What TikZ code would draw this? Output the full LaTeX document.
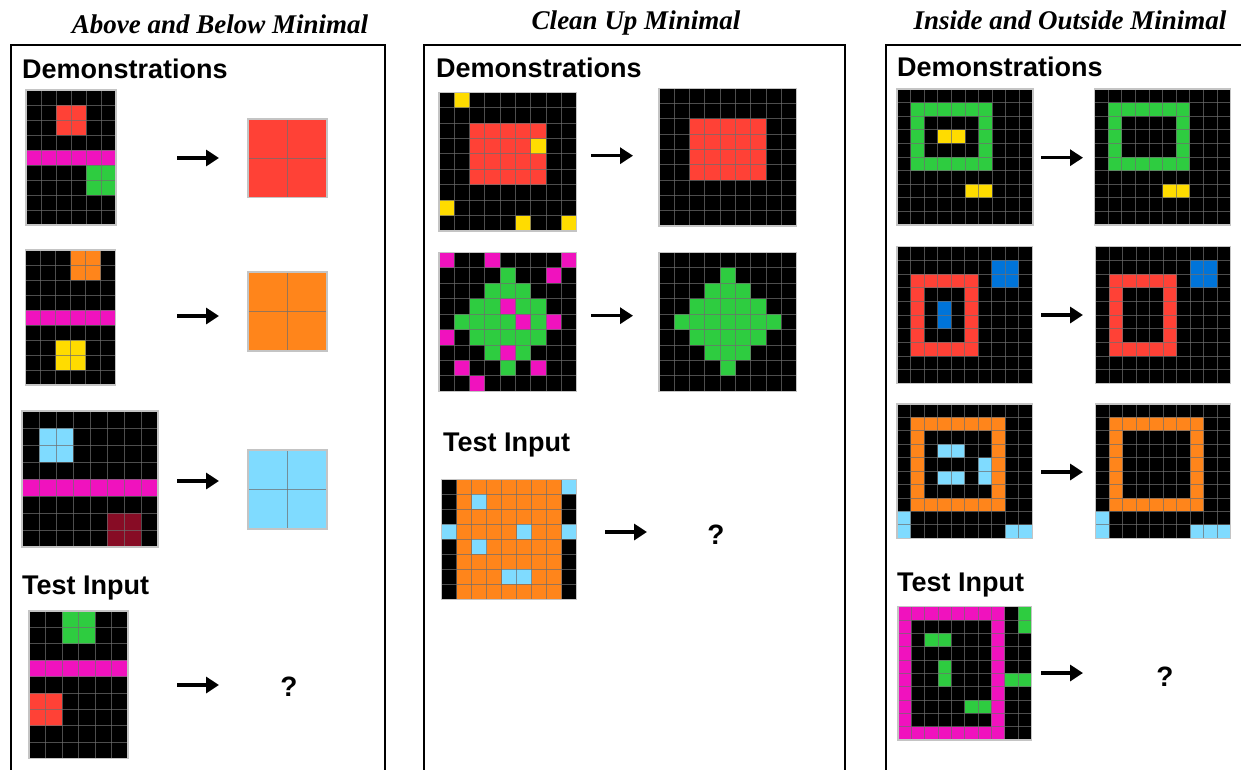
\documentclass[tikz,border=0pt]{standalone}
\usepackage{fontspec}
\setmainfont{Liberation Sans}
\newfontfamily\titlefont{Liberation Serif}
\usetikzlibrary{arrows.meta}
\definecolor{cK}{HTML}{000000}
\definecolor{cR}{HTML}{FF4136}
\definecolor{cO}{HTML}{FF851B}
\definecolor{cY}{HTML}{FFDC00}
\definecolor{cG}{HTML}{2ECC40}
\definecolor{cM}{HTML}{F012BE}
\definecolor{cC}{HTML}{7FDBFF}
\definecolor{cB}{HTML}{0074D9}
\definecolor{cD}{HTML}{870C25}
\definecolor{glinec}{HTML}{6E6E6E}
\definecolor{gbordc}{HTML}{C4C4C4}
\makeatletter
% #1 name, #2 x0, #3 y0, #4 cell w, #5 cell h, #6 cols, #7 rows, #8 row strings
\newcommand\arcgrid[8]{%
  \coordinate (#1-nw) at (#2,#3);
  \coordinate (#1-se) at ({#2+#6*#4},{#3+#7*#5});
  \fill[cK] (#1-nw) rectangle (#1-se);
  \foreach \ag@row [count=\ag@r from 0] in {#8} {%
    \def\ag@c{0}%
    \expandafter\@tfor\expandafter\ag@ch\expandafter:\expandafter=\ag@row\do{%
      \edef\ag@col{c\ag@ch}%
      \if K\ag@ch\else
        \fill[fill=\ag@col] ({#2+\ag@c*#4},{#3+\ag@r*#5}) rectangle ++({#4},{#5});
      \fi
      \pgfmathtruncatemacro\ag@c{\ag@c+1}%
    }%
  }%
  \foreach \ag@i in {1,...,#6} {\draw[gline] ({#2+\ag@i*#4},#3) -- ++(0,{#7*#5});}%
  \foreach \ag@j in {1,...,#7} {\draw[gline] (#2,{#3+\ag@j*#5}) -- ++({#6*#4},0);}%
  \draw[gborder] (#1-nw) rectangle (#1-se);
}
\makeatother
\begin{document}
\begin{tikzpicture}[x=1pt,y=-1pt,
  gline/.style={draw=glinec, line width=0.9pt, opacity=0.7},
  gborder/.style={draw=gbordc, line width=1.2pt},
  panel/.style={draw=black, line width=1.3pt},
  title/.style={font=\titlefont\bfseries\itshape\fontsize{27}{30}\selectfont, anchor=base, inner sep=0pt},
  head/.style={font=\bfseries\fontsize{27}{30}\selectfont, anchor=base west, inner sep=0pt},
  qmark/.style={font=\bfseries\fontsize{28}{30}\selectfont, anchor=base, inner sep=0pt},
  arr/.style={line width=3.4pt, -{Triangle[length=13pt,width=16pt]}}]
\useasboundingbox (0,0) rectangle (1241,769);
\fill[white] (0,0) rectangle (1241,769);

% panels
\draw[panel] (11,45) rectangle (385,790);
\draw[panel] (424,45) rectangle (845,790);
\draw[panel] (886,45) rectangle (1260,790);

% titles
\node[title] (t1) at (220,33) {Above and Below Minimal};
\node[title] (t2) at (636,29) {Clean Up Minimal};
\node[title] (t3) at (1070,29) {Inside and Outside Minimal};

% headings
\node[head] (d1) at (22,78) {Demonstrations};
\node[head] (d2) at (436,77) {Demonstrations};
\node[head] (d3) at (897,76) {Demonstrations};
\node[head] (ti1) at (22,594) {Test Input};
\node[head] (ti2) at (443,451) {Test Input};
\node[head] (ti3) at (897,591) {Test Input};

% ---------- left panel ----------
\arcgrid{L1in}{26}{90}{15}{15}{6}{9}{KKKKKK,KKRRKK,KKRRKK,KKKKKK,MMMMMM,KKKKGG,KKKKGG,KKKKKK,KKKKKK}
\arcgrid{L1out}{248}{119}{39.5}{39.3}{2}{2}{RR,RR}
\arcgrid{L2in}{25.5}{250}{15}{15}{6}{9}{KKKOOK,KKKOOK,KKKKKK,KKKKKK,MMMMMM,KKKKKK,KKYYKK,KKYYKK,KKKKKK}
\arcgrid{L2out}{248}{272}{39.5}{39.5}{2}{2}{OO,OO}
\arcgrid{L3in}{22}{411}{17}{17}{8}{8}{KKKKKKKK,KCCKKKKK,KCCKKKKK,KKKKKKKK,MMMMMMMM,KKKKKKKK,KKKKKDDK,KKKKKDDK}
\arcgrid{L3out}{248}{450}{39.5}{39.5}{2}{2}{CC,CC}
\arcgrid{LTin}{29}{611}{16.5}{16.4}{6}{9}{KKGGKK,KKGGKK,KKKKKK,MMMMMM,KKKKKK,RRKKKK,RRKKKK,KKKKKK,KKKKKK}

\coordinate (la1s) at (177,158); \coordinate (la1e) at (219,158);
\coordinate (la2s) at (177,316); \coordinate (la2e) at (219,316);
\coordinate (la3s) at (177,481); \coordinate (la3e) at (219,481);
\coordinate (la4s) at (177,685); \coordinate (la4e) at (219,685);
\draw[arr] (la1s) -- (la1e);
\draw[arr] (la2s) -- (la2e);
\draw[arr] (la3s) -- (la3e);
\draw[arr] (la4s) -- (la4e);
\node[qmark] (q1) at (289,696) {?};

% ---------- middle panel ----------
\arcgrid{M1in}{439}{92.3}{15.3}{15.4}{9}{9}{KYKKKKKKK,KKKKKKKKK,KKRRRRRKK,KKRRRRYKK,KKRRRRRKK,KKRRRRRKK,KKKKKKKKK,YKKKKKKKK,KKKKKYKKY}
\arcgrid{M1out}{659}{88.3}{15.3}{15.3}{9}{9}{KKKKKKKKK,KKKKKKKKK,KKRRRRRKK,KKRRRRRKK,KKRRRRRKK,KKRRRRRKK,KKKKKKKKK,KKKKKKKKK,KKKKKKKKK}
\arcgrid{M2in}{439}{252.3}{15.3}{15.45}{9}{9}{MKKMKKKKM,KKKKGKKMK,KKKGGGKKK,KKGGMGGKK,KGGGGMGMK,MKGGGGGKK,KKKGMGKKK,KMKKGKMKK,KKMKKKKKK}
\arcgrid{M2out}{659}{252.3}{15.3}{15.45}{9}{9}{KKKKKKKKK,KKKKGKKKK,KKKGGGKKK,KKGGGGGKK,KGGGGGGGK,KKGGGGGKK,KKKGGGKKK,KKKKGKKKK,KKKKKKKKK}
\arcgrid{MTin}{441.7}{479.3}{15}{15}{9}{8}{KOOOOOOOC,KOCOOOOOK,KOOOOOOOK,COOOOCOOC,KOCOOOOOK,KOOOOOOOK,KOOOCCOOK,KOOOOOOOK}

\coordinate (ma1s) at (591,155.7); \coordinate (ma1e) at (633,155.7);
\coordinate (ma2s) at (591,315.7); \coordinate (ma2e) at (633,315.7);
\coordinate (ma3s) at (605,532); \coordinate (ma3e) at (647,532);
\draw[arr] (ma1s) -- (ma1e);
\draw[arr] (ma2s) -- (ma2e);
\draw[arr] (ma3s) -- (ma3e);
\node[qmark] (q2) at (716,544) {?};

% ---------- right panel ----------
\arcgrid{R1in}{897}{89}{13.6}{13.6}{10}{10}{KKKKKKKKKK,KGGGGGGKKK,KGKKKKGKKK,KGKYYKGKKK,KGKKKKGKKK,KGGGGGGKKK,KKKKKKKKKK,KKKKKYYKKK,KKKKKKKKKK,KKKKKKKKKK}
\arcgrid{R1out}{1094.7}{89}{13.6}{13.6}{10}{10}{KKKKKKKKKK,KGGGGGGKKK,KGKKKKGKKK,KGKKKKGKKK,KGKKKKGKKK,KGGGGGGKKK,KKKKKKKKKK,KKKKKYYKKK,KKKKKKKKKK,KKKKKKKKKK}
\arcgrid{R2in}{897}{246.7}{13.53}{13.66}{10}{10}{KKKKKKKKKK,KKKKKKKBBK,KRRRRRKBBK,KRKKKRKKKK,KRKBKRKKKK,KRKBKRKKKK,KRKKKRKKKK,KRRRRRKKKK,KKKKKKKKKK,KKKKKKKKKK}
\arcgrid{R2out}{1095.7}{246.7}{13.5}{13.66}{10}{10}{KKKKKKKKKK,KKKKKKKBBK,KRRRRRKBBK,KRKKKRKKKK,KRKKKRKKKK,KRKKKRKKKK,KRKKKRKKKK,KRRRRRKKKK,KKKKKKKKKK,KKKKKKKKKK}
\arcgrid{R3in}{897}{404}{13.53}{13.43}{10}{10}{KKKKKKKKKK,KOOOOOOOKK,KOKKKKKOKK,KOKCCKKOKK,KOKKKKCOKK,KOKCCKCOKK,KOKKKKKOKK,KOOOOOOOKK,CKKKKKKKKK,CKKKKKKKCC}
\arcgrid{R3out}{1095.7}{404}{13.5}{13.43}{10}{10}{KKKKKKKKKK,KOOOOOOOKK,KOKKKKKOKK,KOKKKKKOKK,KOKKKKKOKK,KOKKKKKOKK,KOKKKKKOKK,KOOOOOOOKK,CKKKKKKKKK,CKKKKKKCCC}
\arcgrid{RTin}{898}{606.7}{13.33}{13.33}{10}{10}{MMMMMMMMKG,MKKKKKKMKG,MKGGKKKMKK,MKKKKKKMKK,MKKGKKKMKK,MKKGKKKMGG,MKKKKKKMKK,MKKKKGGMKK,MKKKKKKMKK,MMMMMMMMKK}

\coordinate (ra1s) at (1041,157.7); \coordinate (ra1e) at (1083,157.7);
\coordinate (ra2s) at (1041,315); \coordinate (ra2e) at (1083,315);
\coordinate (ra3s) at (1041,472); \coordinate (ra3e) at (1083,472);
\coordinate (ra4s) at (1041,673); \coordinate (ra4e) at (1083,673);
\draw[arr] (ra1s) -- (ra1e);
\draw[arr] (ra2s) -- (ra2e);
\draw[arr] (ra3s) -- (ra3e);
\draw[arr] (ra4s) -- (ra4e);
\node[qmark] (q3) at (1165,686) {?};
\end{tikzpicture}
\end{document}
